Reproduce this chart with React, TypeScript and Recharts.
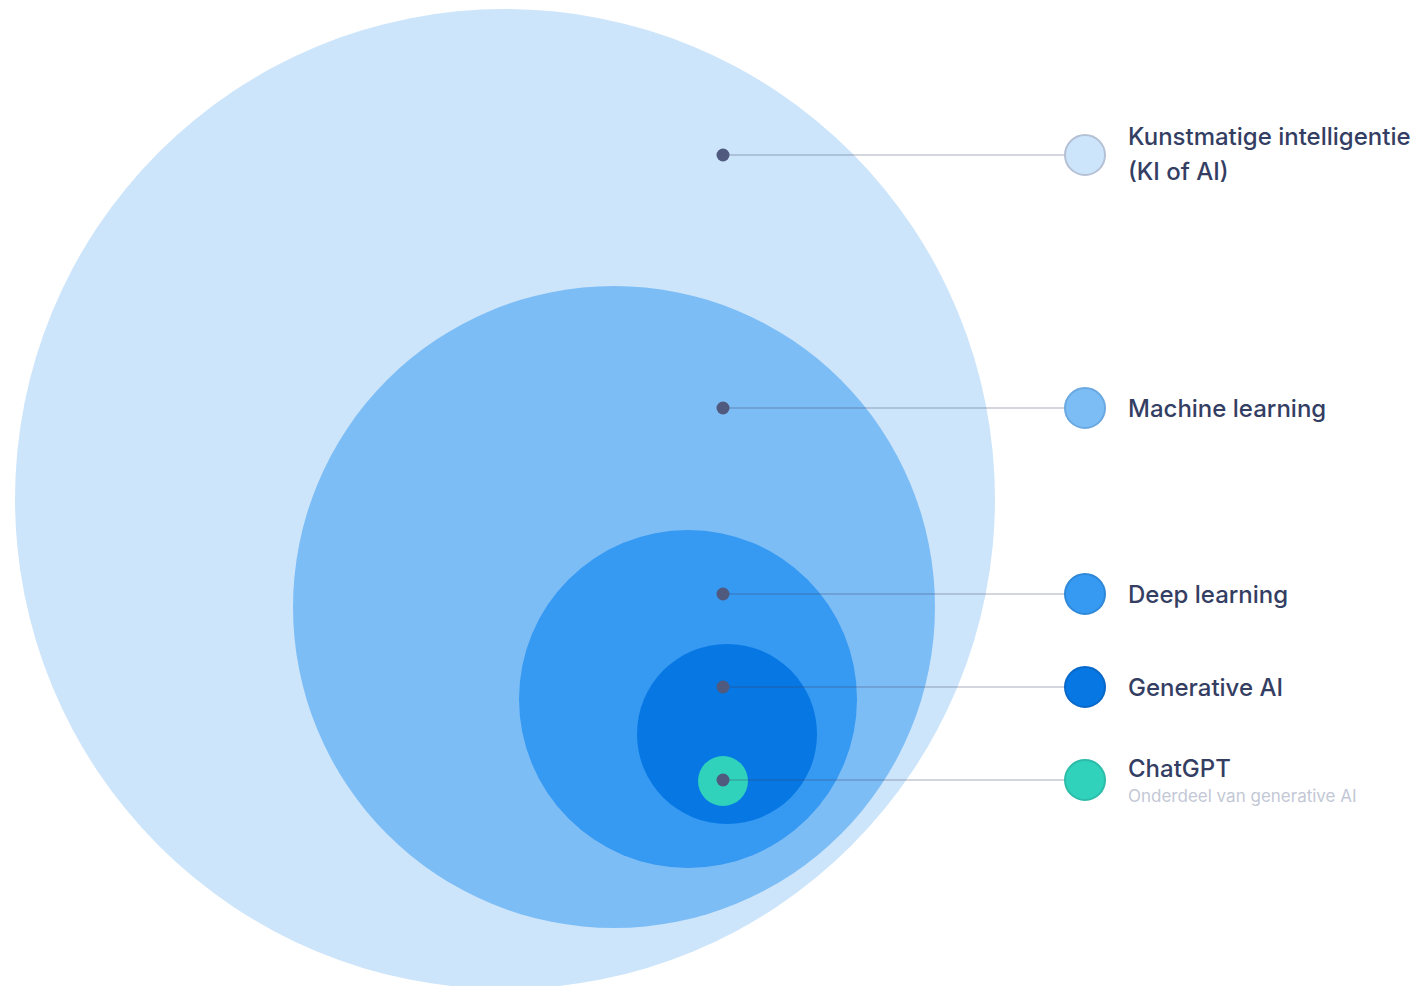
import React from 'react';
import { ScatterChart, Scatter, XAxis, YAxis } from 'recharts';

const CHART_W = 1420;
const CHART_H = 986;
const X_MAX = 1420;
const Y_MAX = 986;
const PX_PER_UNIT = CHART_W / X_MAX;

const categories = ['Kunstmatige intelligentie', 'Machine learning', 'Deep learning', 'Generative AI', 'ChatGPT'];
const labelLines = [['Kunstmatige intelligentie', '(KI of AI)'], ['Machine learning'], ['Deep learning'], ['Generative AI'], ['ChatGPT']];
const subLabels = ['', '', '', '', 'Onderdeel van generative AI'];
const circleX = [505, 614, 688, 727, 723];
const circleY = [499, 607, 699, 734, 781];
const circleR = [490, 321, 169, 90, 25];
const anchorX = 723;
const anchorY = [155, 408, 594, 687, 780];
const legendX = 1085;
const legendR = 20;
const colors = ['#cde5fb', '#7dbdf6', '#3699f2', '#0677e3', '#30d2bc'];
const legendStroke = ['#b4c0d4', '#6aa8e0', '#2f88d8', '#0a68c8', '#2cbca9'];

const FONT = 'Inter, "Noto Sans", sans-serif';
const MAIN_SIZE = 24;
const SUB_SIZE = 17;
const MAIN_COLOR = '#343e63';

const circleData = categories.map((name, i) => ({ name, x: circleX[i], y: circleY[i], r: circleR[i], i }));

const CircleShape = (props: any) => {
  const { cx, cy, payload } = props;
  return <circle cx={cx} cy={cy} r={payload.r * PX_PER_UNIT} fill={colors[payload.i]} />;
};

const LeaderShape = (props: any) => {
  const { cx, cy, payload } = props;
  const i = payload.i;
  if (payload.kind === 'anchor') {
    return <circle cx={cx} cy={cy} r={6.5} fill="#4f5a7e" />;
  }
  const lines = labelLines[i];
  const tx = cx + 43;
  return (
    <g>
      <circle cx={cx} cy={cy} r={legendR} fill={colors[i]} stroke={legendStroke[i]} strokeWidth={2} />
      {lines.length === 2 ? (
        <>
          <text x={tx} y={cy - 19} dominantBaseline="central" fontFamily={FONT} fontSize={MAIN_SIZE} fontWeight={500} fill={MAIN_COLOR}>{lines[0]}</text>
          <text x={tx} y={cy + 16} dominantBaseline="central" fontFamily={FONT} fontSize={MAIN_SIZE} fontWeight={500} fill={MAIN_COLOR}>{lines[1]}</text>
        </>
      ) : subLabels[i] ? (
        <>
          <text x={tx} y={cy - 12} dominantBaseline="central" fontFamily={FONT} fontSize={MAIN_SIZE} fontWeight={500} fill={MAIN_COLOR}>{lines[0]}</text>
          <text x={tx} y={cy + 16} dominantBaseline="central" fontFamily={FONT} fontSize={SUB_SIZE} fill="#c3c8d6">{subLabels[i]}</text>
        </>
      ) : (
        <text x={tx} y={cy} dominantBaseline="central" fontFamily={FONT} fontSize={MAIN_SIZE} fontWeight={500} fill={MAIN_COLOR}>{lines[0]}</text>
      )}
    </g>
  );
};

export default function App() {
  return (
    <div style={{ position: 'absolute', left: 0, top: 0, width: CHART_W, height: CHART_H, background: '#ffffff', overflow: 'hidden' }}>
      <ScatterChart width={CHART_W} height={CHART_H} margin={{ top: 0, right: 0, bottom: 0, left: 0 }}>
        <XAxis type="number" dataKey="x" domain={[0, X_MAX]} hide />
        <YAxis type="number" dataKey="y" domain={[0, Y_MAX]} reversed hide />
        <Scatter data={circleData} shape={CircleShape} isAnimationActive={false} />
        {categories.map((name, i) => (
          <Scatter
            key={name}
            name={name}
            data={[
              { x: anchorX, y: anchorY[i], i, kind: 'anchor' },
              { x: legendX, y: anchorY[i], i, kind: 'legend' },
            ]}
            line={{ stroke: '#3c4566', strokeWidth: 2, strokeOpacity: 0.22 }}
            lineType="joint"
            shape={LeaderShape}
            isAnimationActive={false}
          />
        ))}
      </ScatterChart>
    </div>
  );
}
